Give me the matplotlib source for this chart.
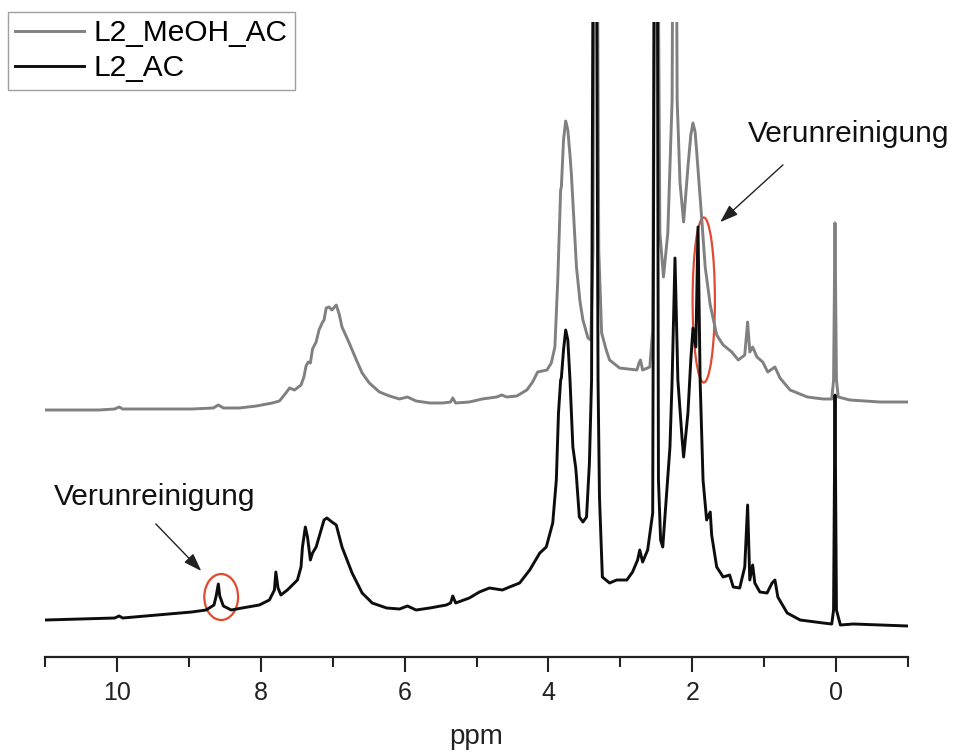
import matplotlib
matplotlib.use("Agg")
import matplotlib.pyplot as plt
from matplotlib.patches import Ellipse

plt.rcParams['font.family'] = ['Liberation Sans', 'DejaVu Sans']

# ---- data (ppm, intensity in arbitrary units) ----
meoh_ppm = [10.99, 10.25, 10.03, 9.97, 9.92, 8.96, 8.66, 8.59, 8.52, 8.30, 8.06, 7.84, 7.74, 7.65,
            7.60, 7.53, 7.44, 7.40, 7.37, 7.34, 7.31, 7.28, 7.23, 7.19, 7.14, 7.12, 7.09, 7.05,
            7.01, 6.95, 6.91, 6.87, 6.77, 6.67, 6.59, 6.49, 6.35, 6.21, 6.07, 5.96, 5.84, 5.65,
            5.47, 5.36, 5.33, 5.29, 5.10, 4.92, 4.72, 4.65, 4.58, 4.44, 4.30, 4.22, 4.15, 4.02,
            3.96, 3.91, 3.89, 3.87, 3.84, 3.83, 3.82, 3.79, 3.76, 3.73, 3.70, 3.68, 3.64, 3.61,
            3.56, 3.52, 3.45, 3.41, 3.38, 3.36, 3.33, 3.30, 3.26, 3.20, 3.15, 3.01, 2.77, 2.74,
            2.72, 2.69, 2.59, 2.55, 2.52, 2.49, 2.45, 2.40, 2.34, 2.28, 2.26, 2.23, 2.21, 2.17,
            2.12, 2.06, 2.02, 1.99, 1.96, 1.94, 1.87, 1.82, 1.75, 1.66, 1.57, 1.45, 1.36, 1.27,
            1.23, 1.20, 1.16, 1.10, 1.02, 0.95, 0.85, 0.78, 0.64, 0.40, 0.18, 0.06, 0.035, 0.015,
            -0.005, -0.03, -0.19, -0.61, -1.00]
meoh_int = [247, 247, 248, 250, 248, 248, 249, 252, 249, 249, 251, 254, 256, 264,
            269, 267, 272, 280, 291, 295, 294, 308, 315, 327, 335, 337, 349, 350,
            347, 352, 343, 330, 314, 297, 284, 274, 265, 261, 258, 260, 256, 254,
            254, 255, 259, 254, 255, 258, 260, 262, 260, 261, 267, 275, 285, 287,
            294, 310, 344, 377, 442, 467, 470, 517, 536, 527, 502, 482, 430, 390,
            355, 337, 319, 317, 407, 900, 900, 407, 324, 308, 297, 289, 287, 294,
            297, 287, 290, 327, 900, 900, 424, 380, 424, 557, 900, 900, 557, 474,
            435, 490, 522, 534, 525, 507, 440, 390, 352, 322, 312, 305, 297, 302,
            335, 305, 310, 300, 295, 285, 290, 279, 267, 260, 258, 258, 277, 434,
            277, 260, 257, 255, 255]

ac_ppm = [10.99, 10.03, 9.97, 9.92, 8.96, 8.76, 8.65, 8.62, 8.59, 8.57, 8.52, 8.41, 8.26, 8.02,
          7.88, 7.81, 7.79, 7.76, 7.72, 7.63, 7.49, 7.44, 7.42, 7.38, 7.35, 7.31, 7.28, 7.23,
          7.16, 7.12, 7.08, 7.01, 6.95, 6.87, 6.73, 6.59, 6.45, 6.25, 6.07, 5.96, 5.84, 5.65,
          5.42, 5.36, 5.33, 5.29, 5.10, 4.96, 4.82, 4.64, 4.54, 4.40, 4.26, 4.12, 4.03, 3.94,
          3.89, 3.86, 3.83, 3.82, 3.79, 3.76, 3.73, 3.70, 3.66, 3.62, 3.61, 3.57, 3.52, 3.47,
          3.43, 3.40, 3.37, 3.34, 3.31, 3.29, 3.25, 3.15, 3.05, 2.91, 2.83, 2.76, 2.73, 2.69,
          2.62, 2.55, 2.52, 2.49, 2.47, 2.44, 2.41, 2.37, 2.31, 2.28, 2.24, 2.20, 2.14, 2.12,
          2.06, 2.02, 1.99, 1.95, 1.92, 1.89, 1.85, 1.80, 1.75, 1.73, 1.66, 1.57, 1.48, 1.43,
          1.34, 1.27, 1.23, 1.20, 1.16, 1.13, 1.06, 0.96, 0.89, 0.85, 0.81, 0.68, 0.50, 0.18,
          0.06, 0.035, 0.015, -0.005, -0.06, -0.24, -0.61, -1.00]
ac_int = [37, 39, 41, 39, 45, 47, 52, 61, 73, 61, 51, 47, 49, 52,
          57, 67, 85, 69, 62, 67, 77, 90, 110, 130, 120, 97, 104, 110,
          127, 137, 139, 135, 132, 110, 84, 64, 54, 49, 48, 51, 47, 49,
          52, 54, 61, 54, 59, 65, 69, 67, 70, 74, 87, 104, 110, 134,
          177, 244, 277, 279, 307, 327, 317, 277, 210, 189, 180, 140, 135, 140,
          194, 277, 900, 900, 277, 160, 80, 74, 77, 77, 85, 97, 107, 95,
          107, 144, 900, 900, 177, 117, 110, 150, 210, 277, 399, 277, 217, 200,
          244, 297, 329, 310, 430, 275, 177, 137, 145, 122, 90, 80, 82, 70,
          69, 90, 152, 77, 92, 74, 65, 64, 74, 77, 60, 44, 37, 34,
          33, 47, 262, 47, 32, 33, 32, 31]

series_labels = ["L2_MeOH_AC", "L2_AC"]
major_ticks = [10, 8, 6, 4, 2, 0]
minor_ticks = [11, 9, 7, 5, 3, 1, -1]
annotation_text = "Verunreinigung"

# ---- figure ----
W, H = 959, 756
fig = plt.figure(figsize=(W / 100, H / 100), dpi=100)
ax = fig.add_axes([45 / W, 1 - 657 / H, (908 - 45) / W, (657 - 22) / H])

l1, = ax.plot(meoh_ppm, meoh_int, color="#808080", lw=2.1, solid_joinstyle="round")
l2, = ax.plot(ac_ppm, ac_int, color="#0d0d0d", lw=2.1, solid_joinstyle="round")

ax.set_xlim(11, -1)
ax.set_ylim(0, 635)
for s in ["top", "left", "right"]:
    ax.spines[s].set_visible(False)
ax.spines["bottom"].set_linewidth(1.6)
ax.spines["bottom"].set_color("#222222")
ax.set_yticks([])
ax.set_xticks(major_ticks)
ax.set_xticks(minor_ticks, minor=True)
ax.tick_params(axis="x", which="major", direction="out", length=11, width=1.5,
               labelsize=18, pad=6, colors="#222222")
ax.tick_params(axis="x", which="minor", direction="out", length=7, width=1.5, colors="#222222")
ax.set_xlabel("ppm", fontsize=20, labelpad=14, color="#222222")

# red ellipses
ax.add_patch(Ellipse((8.55, 60), 0.47, 46, fill=False, ec="#e04a30", lw=1.6))
ax.add_patch(Ellipse((1.84, 357), 0.31, 165, fill=False, ec="#e04a30", lw=1.6))

# arrows and labels
arrow_style = "-|>,head_length=1.1,head_width=0.38"
ax.annotate("", xy=(8.80, 84), xytext=(9.485, 135),
            arrowprops=dict(arrowstyle=arrow_style, color="#222222", lw=1.0))
ax.text(9.48, 160, annotation_text, fontsize=21.5, ha="center", va="center", color="#111111")
ax.annotate("", xy=(1.64, 433), xytext=(0.71, 494),
            arrowprops=dict(arrowstyle=arrow_style, color="#222222", lw=1.0))
ax.text(-0.17, 523, annotation_text, fontsize=21.5, ha="center", va="center", color="#111111",
        clip_on=False)

leg = fig.legend([l1, l2], series_labels, loc="upper left",
                 bbox_to_anchor=(8 / W, 1 - 12 / H), bbox_transform=fig.transFigure,
                 fontsize=21.5, frameon=True, fancybox=False, borderpad=0.25,
                 handlelength=2.3, handletextpad=0.3, labelspacing=0.22, borderaxespad=0)
leg.get_frame().set_edgecolor("#888888")
leg.get_frame().set_linewidth(1.0)

fig.savefig("out.png", dpi=100)
